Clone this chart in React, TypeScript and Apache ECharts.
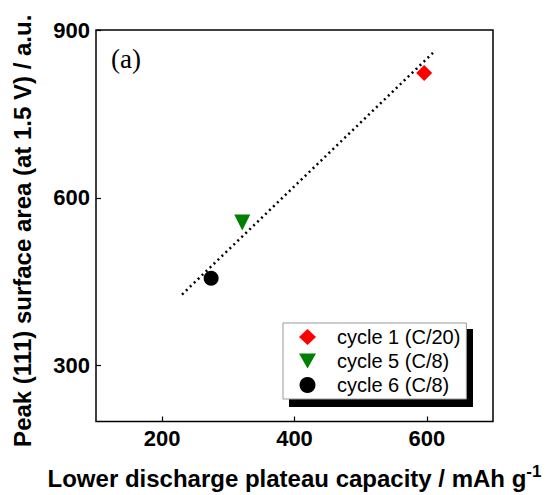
import React, { useEffect, useRef } from 'react';
import * as echarts from 'echarts';

const seriesNames = ['cycle 1 (C/20)', 'cycle 5 (C/8)', 'cycle 6 (C/8)'];
const capacity = [596, 321, 274];
const peakArea = [823, 556, 456];
const seriesSymbols = ['diamond', 'triangle', 'circle'];
const legendIcons = ['diamond', 'path://M0,0L20,0L10,17.5Z', 'circle'];
const seriesRotate = [0, 180, 0];
const seriesColors = ['#ff0000', '#008000', '#000000'];
const seriesSizes = [16, 16, 15];
const trendX = [230, 610];
const trendY = [427, 860];
const xTicks = [200, 400, 600];
const yTicks = [300, 600, 900];

export default function App() {
  const ref = useRef<HTMLDivElement>(null);
  useEffect(() => {
    const chart = echarts.init(ref.current!, null, { renderer: 'svg' });
    const scatter = seriesNames.map((name, i) => ({
      name,
      type: 'scatter',
      symbol: seriesSymbols[i],
      symbolRotate: seriesRotate[i],
      symbolSize: seriesSizes[i],
      itemStyle: { color: seriesColors[i], opacity: 1 },
      data: [[capacity[i], peakArea[i]]],
      z: 3,
    }));
    const font = 'Liberation Sans, Arial, sans-serif';
    chart.setOption({
      animation: false,
      grid: {
        left: 96, right: 54, top: 30, bottom: 69,
        show: true, borderColor: '#000', borderWidth: 1.5, backgroundColor: 'transparent',
      },
      xAxis: {
        type: 'value', min: 100, max: 700,
        axisLine: { show: false },
        splitLine: { show: false },
        axisTick: { show: true, inside: true, length: 5, customValues: xTicks, lineStyle: { color: '#000', width: 1.2 } },
        axisLabel: { customValues: xTicks, color: '#000', fontSize: 22, fontWeight: 'bold', fontFamily: font, margin: 6 },
        name: 'Lower discharge plateau capacity / mAh g{sup|-1}',
        nameLocation: 'middle',
        nameGap: 41,
        nameTextStyle: {
          color: '#000', fontSize: 24, fontWeight: 'bold', fontFamily: font,
          rich: { sup: { fontSize: 17, fontWeight: 'bold', fontFamily: font, color: '#000', verticalAlign: 'top', padding: [0, 0, 14, 0] } },
        },
      },
      yAxis: {
        type: 'value', min: 200, max: 900,
        axisLine: { show: false },
        splitLine: { show: false },
        axisTick: { show: true, inside: true, length: 5, customValues: yTicks, lineStyle: { color: '#000', width: 1.2 } },
        axisLabel: { customValues: yTicks, color: '#000', fontSize: 22, fontWeight: 'bold', fontFamily: font, margin: 6 },
        name: 'Peak (111) surface area (at 1.5 V) / a.u.',
        nameLocation: 'middle',
        nameGap: 62,
        nameTextStyle: { color: '#000', fontSize: 24, fontWeight: 'bold', fontFamily: font, padding: [0, 10, 0, 0] },
      },
      legend: {
        orient: 'vertical',
        left: 283,
        top: 323,
        data: seriesNames.map((name, i) => ({ name, icon: legendIcons[i] })),
        itemWidth: 17,
        itemHeight: 16,
        itemGap: 4,
        padding: [4, 6, 4, 16],
        backgroundColor: '#fff',
        borderColor: '#999',
        borderWidth: 1,
        borderRadius: 0,
        z: 10,
        textStyle: { color: '#000', fontSize: 20, fontFamily: font, padding: [0, 0, 0, 16] },
      },
      graphic: [
        { type: 'rect', shape: { x: 289, y: 329, width: 184, height: 78 }, style: { fill: '#000' }, z: 5 },
        { type: 'text', left: 111, top: 45, style: { text: '(a)', font: '27px "Liberation Serif", "Times New Roman", serif', fill: '#000' }, z: 5 },
      ],
      series: [
        ...scatter,
        {
          name: 'trend',
          type: 'line',
          data: trendX.map((x, i) => [x, trendY[i]]),
          symbol: 'none',
          lineStyle: { color: '#000', width: 2.5, type: [2, 3.5] },
          z: 2,
        },
      ],
    });
    return () => chart.dispose();
  }, []);
  return <div ref={ref} style={{ position: 'absolute', left: 0, top: 0, width: 547, height: 495 }} />;
}
